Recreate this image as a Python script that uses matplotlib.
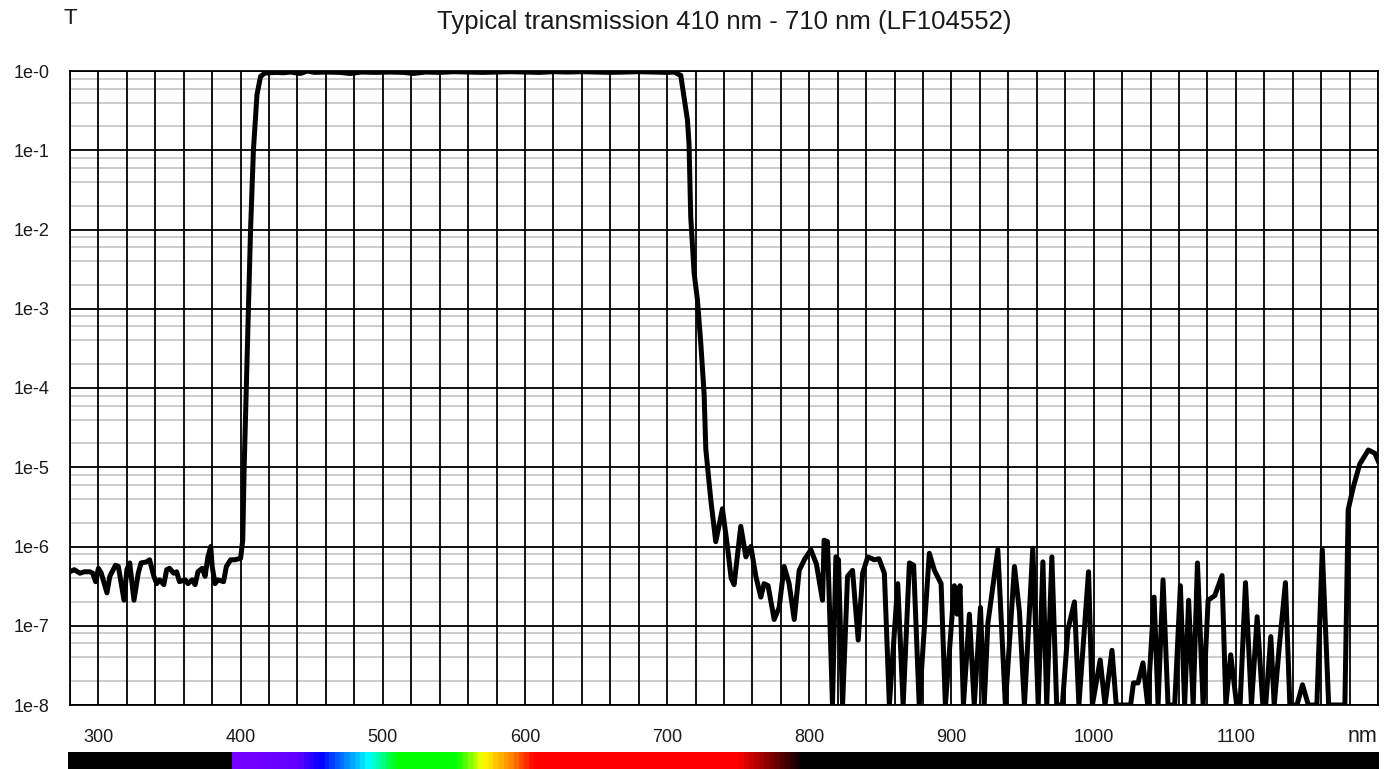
import numpy as np
import matplotlib
matplotlib.use('Agg')
import matplotlib.pyplot as plt
from matplotlib.colors import LinearSegmentedColormap

plt.rcParams['font.family'] = ['Liberation Sans', 'DejaVu Sans']

#--- data (wavelength nm, transmission)
wl_block_uv = [280, 283, 287, 290, 294, 296, 298, 300, 302, 306, 308, 312, 314, 318, 320, 322,
               325, 328, 330, 334, 336, 339, 341, 343, 346, 348, 350, 353, 355, 357, 361, 363,
               366, 368, 370, 373, 375, 377, 379, 380, 382, 384, 388, 390, 393, 396, 400]
t_block_uv = [4.8e-7, 5.1e-7, 4.6e-7, 4.8e-7, 4.8e-7, 4.6e-7, 3.6e-7, 5.3e-7, 4.6e-7, 2.6e-7,
              4.2e-7, 5.8e-7, 5.6e-7, 2.1e-7, 5.1e-7, 6.2e-7, 2.1e-7, 4.6e-7, 6.2e-7, 6.4e-7,
              6.8e-7, 4.2e-7, 3.4e-7, 3.8e-7, 3.3e-7, 5.1e-7, 5.3e-7, 4.6e-7, 4.8e-7, 3.6e-7,
              3.8e-7, 3.4e-7, 3.8e-7, 3.3e-7, 4.8e-7, 5.3e-7, 4.2e-7, 7.4e-7, 1.0e-6, 5.6e-7,
              3.4e-7, 3.8e-7, 3.6e-7, 5.6e-7, 6.8e-7, 6.8e-7, 7.1e-7]

wl_pass = [401.5, 402.5, 404, 405.5, 407, 409, 411.5, 414, 417, 425, 430, 435, 442, 447,
           452, 460, 470, 477, 485, 495, 505, 515, 521, 530, 540, 550, 560, 570, 580, 590,
           600, 610, 620, 630, 640, 650, 660, 670, 680, 690, 700, 705, 709.6, 714.3, 715.4,
           716.6, 719, 721.3, 723.7, 726, 727.2]
t_pass = [1.2e-6, 1e-5, 1e-4, 1e-3, 1e-2, 0.1, 0.5, 0.85, 0.94, 0.96, 0.95, 0.97, 0.93, 1.0,
          0.96, 0.97, 0.96, 0.93, 0.97, 0.96, 0.97, 0.96, 0.93, 0.97, 0.96, 0.98, 0.97, 0.96,
          0.97, 0.98, 0.97, 0.96, 0.98, 0.97, 0.98, 0.97, 0.96, 0.97, 0.98, 0.97, 0.96, 0.97,
          0.88, 0.24, 0.12, 0.0144, 2.8e-3, 1.3e-3, 3.6e-4, 8.5e-5, 1.7e-5]

wl_block_ir = [730.7, 734.2, 738.9, 742.4, 745, 747.1, 751.8, 755.4, 758.9, 762.4, 765.9, 768.2,
               771, 775.3, 778.8, 782.3, 785.8, 789.4, 792.9, 796.5, 801.1, 805, 809.3, 810.4,
               812.8, 816.3, 818.7, 820.5, 823.4, 826.9, 830.4, 834.4, 837.5, 841.1, 845.7,
               849, 852.8, 856.3, 862.2, 866, 870.4, 873.4, 877.3, 884.4, 888, 892.7, 895.7,
               902, 904, 906, 908.4, 912.6, 916, 920.4, 923, 925.6, 932.6, 937.9, 944.3, 947.8,
               951.3, 957.2, 961, 964.3, 967, 970.6, 974, 978, 981.9, 986.5, 989.6, 996.4,
               999.1, 1004.6, 1008, 1012.9, 1015.9, 1026, 1028, 1031.2, 1034.7, 1038, 1042.5,
               1045.3, 1048.8, 1052.3, 1057, 1061, 1064, 1066.8, 1070, 1073, 1077, 1080.5,
               1085.2, 1090.3, 1093, 1096.4, 1100.6, 1103, 1106.8, 1111, 1115, 1119, 1121,
               1124.6, 1127, 1130.5, 1134.9, 1138, 1143, 1146.9, 1151, 1157, 1160.8, 1165.3,
               1176.7, 1179, 1182.6, 1187.2, 1193.2, 1197.8, 1201]
t_block_ir = [3.9e-6, 1.15e-6, 3.0e-6, 1e-6, 4e-7, 3.3e-7, 1.8e-6, 7.4e-7, 1e-6, 4.2e-7,
              2.3e-7, 3.4e-7, 3.2e-7, 1.2e-7, 1.7e-7, 5.6e-7, 3.4e-7, 1.2e-7, 5e-7, 6.8e-7,
              9.1e-7, 6e-7, 2.1e-7, 1.2e-6, 1.15e-6, 1e-8, 7.4e-7, 6.8e-7, 1e-8, 4.2e-7,
              5e-7, 6.6e-8, 4.6e-7, 7.4e-7, 6.8e-7, 7e-7, 4.6e-7, 1e-8, 3.4e-7, 1e-8,
              6.2e-7, 5.8e-7, 1e-8, 8.2e-7, 5e-7, 3.4e-7, 1e-8, 3.2e-7, 1.4e-7, 3.2e-7,
              1e-8, 1.4e-7, 1e-8, 1.7e-7, 1e-8, 1.07e-7, 9.1e-7, 1e-8, 5.6e-7, 1.5e-7,
              1e-8, 9.5e-7, 1e-8, 6.4e-7, 1e-8, 7.4e-7, 1e-8, 1e-8, 8.9e-8, 2.0e-7,
              1e-8, 4.8e-7, 1e-8, 3.7e-8, 1e-8, 4.9e-8, 1e-8, 1e-8, 1.9e-8, 1.9e-8,
              3.4e-8, 1e-8, 2.3e-7, 1e-8, 3.8e-7, 1e-8, 1e-8, 3.2e-7, 1e-8, 2.1e-7,
              1e-8, 6.2e-7, 1e-8, 2.1e-7, 2.4e-7, 4.3e-7, 1e-8, 4.3e-8, 1e-8, 1e-8,
              3.5e-7, 1e-8, 1.3e-7, 1e-8, 1e-8, 7.3e-8, 1e-8, 5.3e-8, 3.5e-7, 1e-8,
              1e-8, 1.8e-8, 1e-8, 1e-8, 9.1e-7, 1e-8, 1e-8, 2.9e-6, 5.6e-6, 1.1e-5,
              1.65e-5, 1.5e-5, 1.1e-5]

wavelength = wl_block_uv + wl_pass + wl_block_ir
transmission = t_block_uv + t_pass + t_block_ir

x_ticks = [300, 400, 500, 600, 700, 800, 900, 1000, 1100]
y_decades = [0, -1, -2, -3, -4, -5, -6, -7, -8]
y_labels = ['1e-0', '1e-1', '1e-2', '1e-3', '1e-4', '1e-5', '1e-6', '1e-7', '1e-8']

# visible spectrum strip
spec_nm = [280, 394.5, 395, 440, 456, 490, 510, 552, 570, 590, 606, 750, 796, 1200]
spec_col = ['#000000', '#000000', '#7800ff', '#6200ff', '#0000ff', '#00ffff', '#00ff00',
            '#00ff00', '#ffff00', '#ff8800', '#ff0000', '#ff0000', '#000000', '#000000']

#--- plot
fig = plt.figure(figsize=(13.9, 7.69), dpi=100)
ax = fig.add_axes([70/1390, 64/769, 1308/1390, 634/769])

ax.set_yscale('log')
ax.set_xlim(280, 1200)
ax.set_ylim(1e-8, 1)

# grid
minor_y = [m * 10.0**d for d in range(-8, 0) for m in (2, 4, 6, 8)]
for v in minor_y:
    ax.axhline(v, color='#c8c8c8', lw=1.3, zorder=1)
for v in range(280, 1201, 20):
    ax.axvline(v, color='black', lw=1.3, zorder=2)
for d in y_decades:
    ax.axhline(10.0**d, color='black', lw=1.3, zorder=2)

ax.plot(wavelength, transmission, color='black', lw=3.6, solid_joinstyle='round', zorder=3)

ax.set_xticks(x_ticks)
ax.set_xticklabels([str(v) for v in x_ticks])
ax.set_yticks([10.0**d for d in y_decades])
ax.set_yticklabels(y_labels)
ax.yaxis.set_minor_locator(matplotlib.ticker.NullLocator())
ax.tick_params(axis='both', length=0, labelsize=13, colors='#1a1a1a')
ax.tick_params(axis='x', pad=17)
ax.tick_params(axis='y', pad=15)
for s in ax.spines.values():
    s.set_linewidth(1.3)

fig.text(724/1390, 1 - 22/769, 'Typical transmission 410 nm - 710 nm (LF104552)',
         ha='center', va='center', fontsize=18.5, color='#1a1a1a')
fig.text(70/1390, 1 - 19/769, 'T', ha='center', va='center', fontsize=16, color='#1a1a1a')
fig.text(1362/1390, 1 - 737/769, 'nm', ha='center', va='center', fontsize=15.5, color='#1a1a1a')

# spectrum strip under the axis
cax = fig.add_axes([68/1390, 0, 1311/1390, 17/769])
lo, hi = spec_nm[0], spec_nm[-1]
cmap = LinearSegmentedColormap.from_list(
    'spec', [((n - lo) / (hi - lo), c) for n, c in zip(spec_nm, spec_col)])
strip = np.linspace(lo, hi, 1200).reshape(1, -1)
cax.imshow(strip, cmap=cmap, aspect='auto', extent=[lo, hi, 0, 1], vmin=lo, vmax=hi)
cax.set_axis_off()

fig.savefig('out.png', dpi=100)
